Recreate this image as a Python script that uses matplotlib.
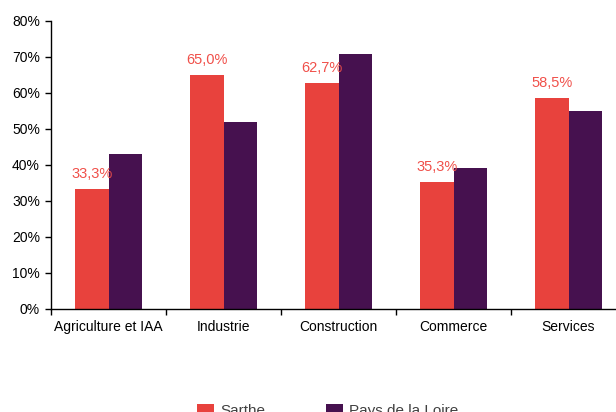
import numpy as np
import matplotlib.pyplot as plt
from matplotlib.ticker import FuncFormatter

plt.rcParams['font.family'] = ['Liberation Sans', 'DejaVu Sans']

categories = ["Agriculture et IAA", "Industrie", "Construction", "Commerce", "Services"]
sarthe = [33.3, 65.0, 62.7, 35.3, 58.5]
pays_loire = [43.1, 52.0, 70.8, 39.2, 55.0]

red = "#E8423D"
purple = "#46114F"

fig = plt.figure(figsize=(6.16, 4.12), dpi=100)
ax = fig.add_axes([51 / 616, 103 / 412, 575 / 616, 288 / 412])

x = np.arange(len(categories))
w = 0.287
ax.bar(x - w / 2, sarthe, w, color=red, label="Sarthe")
ax.bar(x + w / 2, pays_loire, w, color=purple, label="Pays de la Loire")

# valeurs Sarthe au-dessus des barres
for xi, v in zip(x, sarthe):
    ax.text(xi - w / 2, v + 2.2, "{:.1f}%".format(v).replace(".", ","),
            ha="center", va="bottom", color="#F0504A", fontsize=10.5)

ax.set_xlim(-0.5, len(categories) - 0.5)
ax.set_ylim(0, 80)
ax.set_yticks(np.arange(0, 81, 10))
ax.yaxis.set_major_formatter(FuncFormatter(lambda v, p: "{:.0f}%".format(v)))
ax.set_xticks(x)
ax.set_xticklabels(categories)
ax.set_xticks(np.arange(-0.5, len(categories), 1), minor=True)
ax.tick_params(axis="x", which="major", length=0, pad=8, labelsize=10)
ax.tick_params(axis="x", which="minor", length=4, width=1)
ax.tick_params(axis="y", length=4, width=1, labelsize=10, pad=4)

for s in ["top", "right"]:
    ax.spines[s].set_visible(False)
ax.spines["left"].set_linewidth(1)
ax.spines["bottom"].set_linewidth(1)

leg = fig.legend(loc="upper left", bbox_to_anchor=(183 / 616, 1 - 390 / 412), ncol=2,
                 frameon=False, fontsize=11, handlelength=1.1, handleheight=0.85,
                 columnspacing=3.95, handletextpad=0.45)
for t in leg.get_texts():
    t.set_color("#404040")

fig.savefig("out.png", dpi=100)
